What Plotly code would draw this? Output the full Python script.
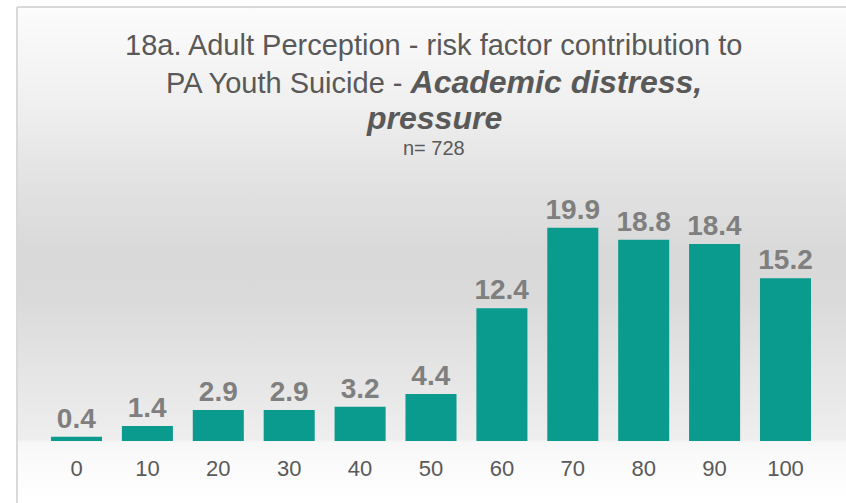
import plotly.graph_objects as go

categories = ["0", "10", "20", "30", "40", "50", "60", "70", "80", "90", "100"]
values = [0.4, 1.4, 2.9, 2.9, 3.2, 4.4, 12.4, 19.9, 18.8, 18.4, 15.2]
value_labels = ["0.4", "1.4", "2.9", "2.9", "3.2", "4.4", "12.4", "19.9", "18.8", "18.4", "15.2"]
title_lines = [
    "18a. Adult Perception - risk factor contribution to",
    "PA Youth Suicide - <span style='font-size:32px'><b><i>Academic distress,</i></b></span>",
    "<span style='font-size:32px'><b><i>pressure</i></b></span>",
]
subtitle = "n= 728"

W, H = 846, 503
ML, MT = 17, 7
PW, PH = W - ML, H - MT


def fx(px):
    return (px - ML) / PW


def fy(py):
    return (H - py) / PH


FONT = "Liberation Sans, Arial, sans-serif"

fig = go.Figure()

# background gradient (drawn on its own full-size subplot, below the bars)
bg_scale = [
    [0.0, "#ffffff"],
    [0.087, "#fafafa"],
    [0.122, "#f7f7f7"],
    [0.128, "#eeeeee"],
    [0.248, "#e6e6e6"],
    [0.41, "#dadada"],
    [0.51, "#d9d9d9"],
    [0.671, "#e4e4e4"],
    [0.812, "#f0f0f0"],
    [0.974, "#fafafa"],
    [1.0, "#fcfcfc"],
]
fig.add_trace(go.Scatter(
    x=[0, 1, 1, 0, 0], y=[0, 0, 1, 1, 0], mode="lines", fill="toself",
    line=dict(width=0), fillgradient=dict(type="vertical", colorscale=bg_scale),
    hoverinfo="skip", showlegend=False, xaxis="x", yaxis="y",
))

fig.add_trace(go.Bar(
    x=categories, y=values, text=value_labels, textposition="outside",
    constraintext="none",
    textfont=dict(family=FONT, size=28, color="#7f7f7f", weight="bold"),
    marker=dict(color="#0b9a8e", line=dict(width=0)),
    width=0.72, cliponaxis=False, showlegend=False,
    xaxis="x2", yaxis="y2",
))

baseline = 441
top_px = 160
scale = 10.71

fig.update_layout(
    width=W, height=H,
    margin=dict(l=ML, r=0, t=MT, b=0, pad=0),
    paper_bgcolor="#ffffff", plot_bgcolor="rgba(0,0,0,0)",
    xaxis=dict(domain=[0, 1], range=[0, 1], visible=False, fixedrange=True),
    yaxis=dict(domain=[0, 1], range=[0, 1], visible=False, fixedrange=True),
    xaxis2=dict(domain=[fx(41.05), fx(820.95)], anchor="y2", range=[-0.5, 10.5],
                showgrid=False, zeroline=False, showline=False, ticks="",
                ticklabelstandoff=12,
                tickfont=dict(family=FONT, size=22, color="#595959")),
    yaxis2=dict(domain=[fy(baseline), fy(top_px)], anchor="x2",
                range=[0, (baseline - top_px) / scale], visible=False),
    font=dict(family=FONT),
    shapes=[
        dict(type="line", xref="paper", yref="paper", x0=0, x1=1.05, y0=1, y1=1,
             line=dict(color="#d9d9d9", width=2)),
        dict(type="line", xref="paper", yref="paper", x0=0, x1=0, y0=-0.05, y1=1,
             line=dict(color="#d9d9d9", width=2)),
    ],
)

tx = fx(433.5)
for line, py in zip(title_lines, [45, 82, 118]):
    fig.add_annotation(text=line, x=tx, y=fy(py), xref="paper", yref="paper",
                       xanchor="center", yanchor="middle", showarrow=False,
                       font=dict(family=FONT, size=29, color="#595959"))
fig.add_annotation(text=subtitle, x=tx, y=fy(148), xref="paper", yref="paper",
                   xanchor="center", yanchor="middle", showarrow=False,
                   font=dict(family=FONT, size=20, color="#595959"))

fig.write_html("out.html", config={"displayModeBar": False},
               post_script="document.body.style.margin='0';")
